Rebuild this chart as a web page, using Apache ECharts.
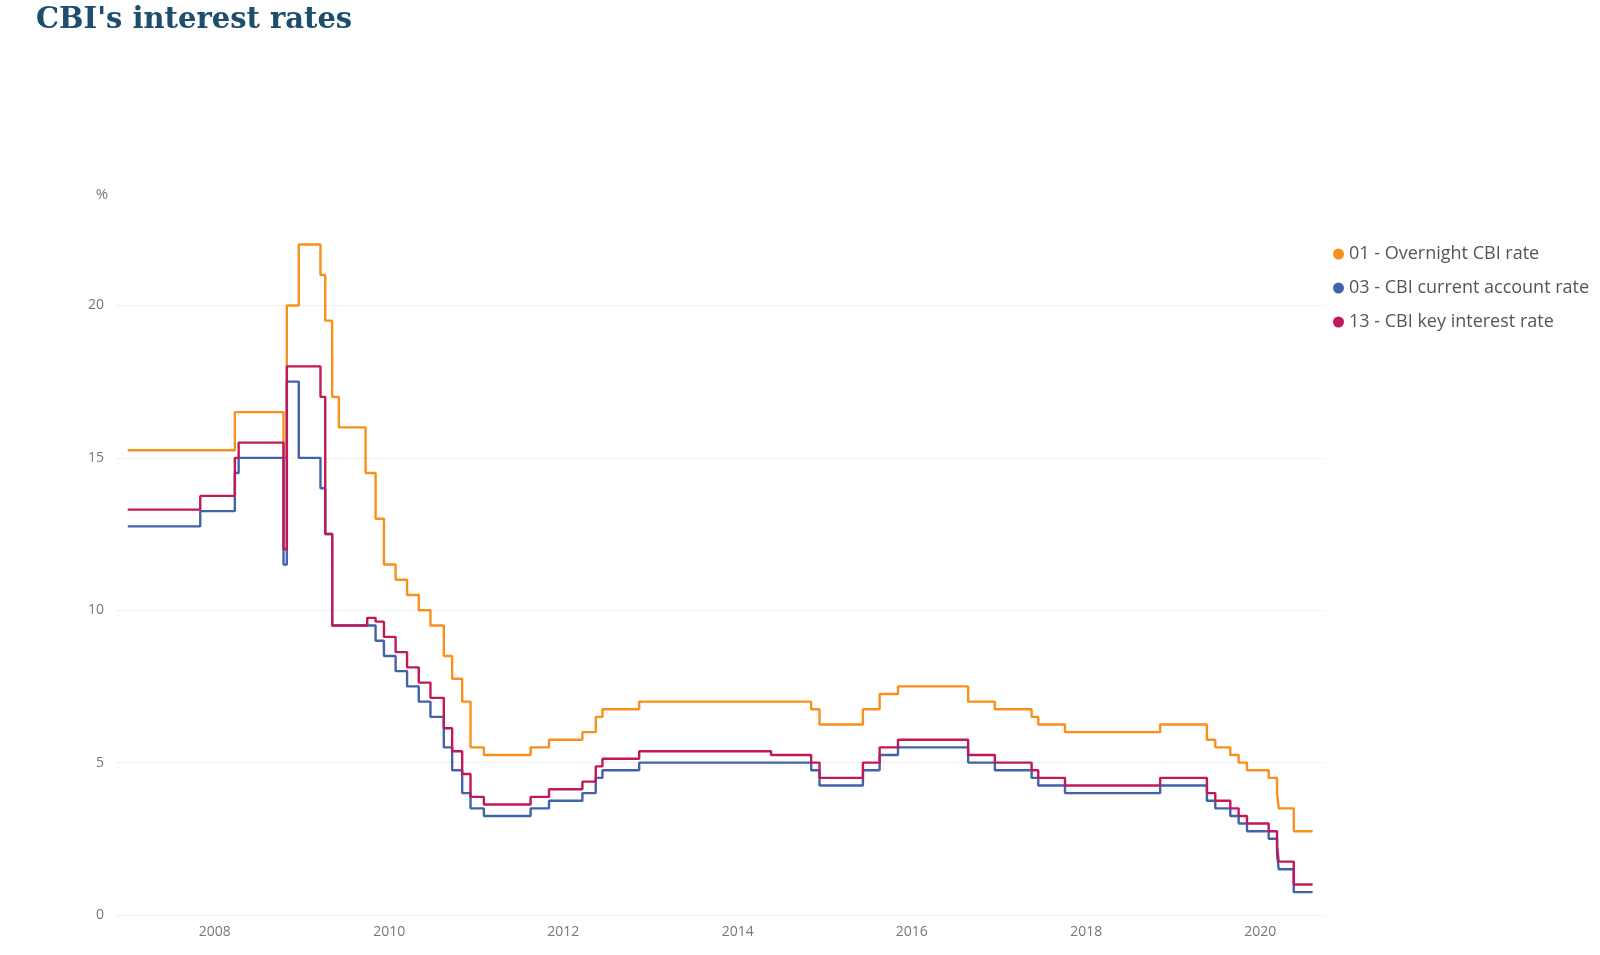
<!DOCTYPE html>
<html lang="en">
<head>
<meta charset="UTF-8">
<style>
    html,
    body {
        height: 100%;
        margin: 0;
        background: #fff;
    }
</style>
</head>
<body>
<div id="chart" style="width:1600px;height:955px;"></div>
<script src="https://cdn.jsdelivr.net/npm/echarts@6/dist/echarts.min.js"></script>
<script>
    // x axis labels (Jan 1st of each)
    var yearTicks = [2008, 2010, 2012, 2014, 2016, 2018, 2020];
    var endDate = '2020-08-07';

    // 01 - Overnight CBI rate: date of change, new rate
    var overnightDates = ['2007-01-01', '2008-03-25', '2008-10-15', '2008-10-29', '2008-12-18', '2009-03-19',
        '2009-04-08', '2009-05-07', '2009-06-04', '2009-09-24', '2009-11-05', '2009-12-10', '2010-01-28',
        '2010-03-17', '2010-05-05', '2010-06-23', '2010-08-18', '2010-09-22', '2010-11-03', '2010-12-08',
        '2011-02-02', '2011-08-17', '2011-11-02', '2012-03-21', '2012-05-16', '2012-06-13', '2012-11-14',
        '2014-11-05', '2014-12-10', '2015-06-10', '2015-08-19', '2015-11-04', '2016-08-24', '2016-12-14',
        '2017-05-17', '2017-06-14', '2017-10-04', '2018-11-07', '2019-05-22', '2019-06-26', '2019-08-28',
        '2019-10-02', '2019-11-06', '2020-02-05', '2020-03-11', '2020-03-18', '2020-05-20'];
    var overnightRates = [15.25, 16.5, 15.0, 20.0, 22.0, 21.0,
        19.5, 17.0, 16.0, 14.5, 13.0, 11.5, 11.0,
        10.5, 10.0, 9.5, 8.5, 7.75, 7.0, 5.5,
        5.25, 5.5, 5.75, 6.0, 6.5, 6.75, 7.0,
        6.75, 6.25, 6.75, 7.25, 7.5, 7.0, 6.75,
        6.5, 6.25, 6.0, 6.25, 5.75, 5.5, 5.25,
        5.0, 4.75, 4.5, 4.0, 3.5, 2.75];

    // 03 - CBI current account rate
    var currentDates = ['2007-01-01', '2007-11-01', '2008-03-25', '2008-04-10', '2008-10-15', '2008-10-29',
        '2008-12-18', '2009-03-19', '2009-04-08', '2009-05-07', '2009-11-05', '2009-12-10', '2010-01-28',
        '2010-03-17', '2010-05-05', '2010-06-23', '2010-08-18', '2010-09-22', '2010-11-03', '2010-12-08',
        '2011-02-02', '2011-08-17', '2011-11-02', '2012-03-21', '2012-05-16', '2012-06-13', '2012-11-14',
        '2014-11-05', '2014-12-10', '2015-06-10', '2015-08-19', '2015-11-04', '2016-08-24', '2016-12-14',
        '2017-05-17', '2017-06-14', '2017-10-04', '2018-11-07', '2019-05-22', '2019-06-26', '2019-08-28',
        '2019-10-02', '2019-11-06', '2020-02-05', '2020-03-11', '2020-03-18', '2020-05-20'];
    var currentRates = [12.75, 13.25, 14.5, 15.0, 11.5, 17.5,
        15.0, 14.0, 12.5, 9.5, 9.0, 8.5, 8.0,
        7.5, 7.0, 6.5, 5.5, 4.75, 4.0, 3.5,
        3.25, 3.5, 3.75, 4.0, 4.5, 4.75, 5.0,
        4.75, 4.25, 4.75, 5.25, 5.5, 5.0, 4.75,
        4.5, 4.25, 4.0, 4.25, 3.75, 3.5, 3.25,
        3.0, 2.75, 2.5, 2.0, 1.5, 0.75];

    // 13 - CBI key interest rate
    var keyDates = ['2007-01-01', '2007-11-01', '2008-03-25', '2008-04-10', '2008-10-15', '2008-10-29',
        '2009-03-19', '2009-04-08', '2009-05-07', '2009-10-01', '2009-11-05', '2009-12-10', '2010-01-28',
        '2010-03-17', '2010-05-05', '2010-06-23', '2010-08-18', '2010-09-22', '2010-11-03', '2010-12-08',
        '2011-02-02', '2011-08-17', '2011-11-02', '2012-03-21', '2012-05-16', '2012-06-13', '2012-11-14',
        '2014-05-21', '2014-11-05', '2014-12-10', '2015-06-10', '2015-08-19', '2015-11-04', '2016-08-24',
        '2016-12-14', '2017-05-17', '2017-06-14', '2017-10-04', '2018-11-07', '2019-05-22', '2019-06-26',
        '2019-08-28', '2019-10-02', '2019-11-06', '2020-02-05', '2020-03-11', '2020-03-18', '2020-05-20'];
    var keyRates = [13.3, 13.75, 15.0, 15.5, 12.0, 18.0,
        17.0, 12.5, 9.5, 9.75, 9.625, 9.125, 8.625,
        8.125, 7.625, 7.125, 6.125, 5.375, 4.625, 3.875,
        3.625, 3.875, 4.125, 4.375, 4.875, 5.125, 5.375,
        5.25, 5.0, 4.5, 5.0, 5.5, 5.75, 5.25,
        5.0, 4.75, 4.5, 4.25, 4.5, 4.0, 3.75,
        3.5, 3.25, 3.0, 2.75, 2.25, 1.75, 1.0];

    function toTime(s) {
        var p = s.split('-');
        return new Date(+p[0], +p[1] - 1, +p[2]).getTime();
    }

    function steps(dates, values) {
        var out = [];
        for (var i = 0; i < dates.length; i++) {
            out.push([toTime(dates[i]), values[i]]);
        }
        out.push([toTime(endDate), values[values.length - 1]]);
        return out;
    }

    var labelFont = 'Open Sans';

    var myChart = echarts.init(document.getElementById('chart'));
    myChart.setOption({
        animation: false,
        color: ['#F8901C', '#4262AA', '#C2185B'],
        title: {
            text: "CBI's interest rates",
            left: 31,
            top: 1,
            textStyle: {
                fontFamily: 'DejaVu Serif',
                fontWeight: 'bold',
                fontSize: 29,
                color: '#1D4E6E'
            }
        },
        legend: {
            orient: 'vertical',
            left: 1328,
            top: 240,
            icon: 'circle',
            itemWidth: 11,
            itemHeight: 11,
            itemGap: 16,
            textStyle: {
                fontFamily: labelFont,
                fontSize: 18,
                color: '#555'
            }
        },
        grid: {
            left: 117,
            right: 275,
            top: 214,
            bottom: 40
        },
        xAxis: {
            type: 'value',
            min: toTime('2006-11-17'),
            max: toTime('2020-09-28'),
            axisLine: { show: false },
            axisTick: { show: false },
            splitLine: { show: false },
            axisLabel: {
                customValues: yearTicks.map(function (y) { return new Date(y, 0, 1).getTime(); }),
                formatter: function (v) { return String(new Date(v).getFullYear()); },
                color: '#777',
                fontFamily: labelFont,
                fontSize: 14,
                margin: 10
            }
        },
        yAxis: {
            type: 'value',
            min: 0,
            max: 23,
            interval: 5,
            name: '%',
            nameGap: 12,
            nameTextStyle: {
                color: '#777',
                fontFamily: labelFont,
                fontSize: 15,
                padding: [0, 30, 0, 0]
            },
            axisLine: { show: false },
            axisTick: { show: false },
            axisLabel: {
                color: '#777',
                fontFamily: labelFont,
                fontSize: 14,
                margin: 13,
                showMaxLabel: false
            },
            splitLine: {
                showMaxLine: false,
                lineStyle: { type: 'dotted', color: '#e2e2e2' }
            }
        },
        series: [
            {
                name: '01 - Overnight CBI rate',
                type: 'line',
                step: 'end',
                showSymbol: false,
                lineStyle: { width: 2.4 },
                data: steps(overnightDates, overnightRates)
            },
            {
                name: '03 - CBI current account rate',
                type: 'line',
                step: 'end',
                showSymbol: false,
                lineStyle: { width: 2.4 },
                data: steps(currentDates, currentRates)
            },
            {
                name: '13 - CBI key interest rate',
                type: 'line',
                step: 'end',
                showSymbol: false,
                lineStyle: { width: 2.4 },
                data: steps(keyDates, keyRates)
            }
        ]
    });
</script>
</body>
</html>
